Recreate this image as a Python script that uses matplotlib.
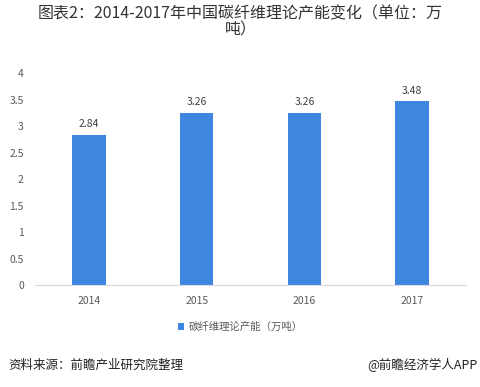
import matplotlib
matplotlib.use('Agg')
import matplotlib.pyplot as plt

plt.rcParams['font.family'] = ['Noto Sans CJK SC', 'DejaVu Sans']

years = ['2014', '2015', '2016', '2017']
capacity = [2.84, 3.26, 3.26, 3.48]
yticks = [0, 0.5, 1, 1.5, 2, 2.5, 3, 3.5, 4]
series_name = '碳纤维理论产能（万吨）'

fig = plt.figure(figsize=(4.81, 3.87), dpi=100)
ax = fig.add_axes([35/481, 102/387, 431/481, 211.6/387])

bars = ax.bar(range(len(years)), capacity, width=0.31, color='#3F86E0',
              label=series_name, zorder=2)
for i, v in enumerate(capacity):
    ax.text(i, v + 0.1, '%.2f' % v, ha='center', va='bottom',
            fontsize=7.5, color='#404040')

ax.set_xlim(-0.5, len(years) - 0.5)
ax.set_ylim(0, 4)
ax.set_xticks(range(len(years)))
ax.set_xticklabels(years)
ax.set_yticks(yticks)
ax.set_yticklabels(['%g' % t for t in yticks])
ax.tick_params(axis='both', length=0, labelsize=7.5, labelcolor='#595959')
ax.tick_params(axis='y', pad=8)
ax.tick_params(axis='x', pad=8)
for s in ['top', 'right', 'left']:
    ax.spines[s].set_visible(False)
ax.spines['bottom'].set_color('#d9d9d9')

fig.text(0.5, 1 - 22/387, '图表2：2014-2017年中国碳纤维理论产能变化（单位：万\n吨）',
         ha='center', va='center', fontsize=11.5, color='#333333',
         linespacing=0.95)

leg = fig.legend(handles=[bars], labels=[series_name], loc='center',
                 bbox_to_anchor=(0.5, 1 - 327/387), frameon=False,
                 fontsize=7.5, handlelength=0.6, handleheight=0.6,
                 handletextpad=0.4)
for t in leg.get_texts():
    t.set_color('#595959')

fig.text(8/481, 1 - 365/387, '资料来源：前瞻产业研究院整理', ha='left', va='center',
         fontsize=9, style='italic', color='#222222')
fig.text(478/481, 1 - 365/387, '@前瞻经济学人APP', ha='right', va='center',
         fontsize=9, color='#222222')

fig.savefig('out.png', dpi=100)
